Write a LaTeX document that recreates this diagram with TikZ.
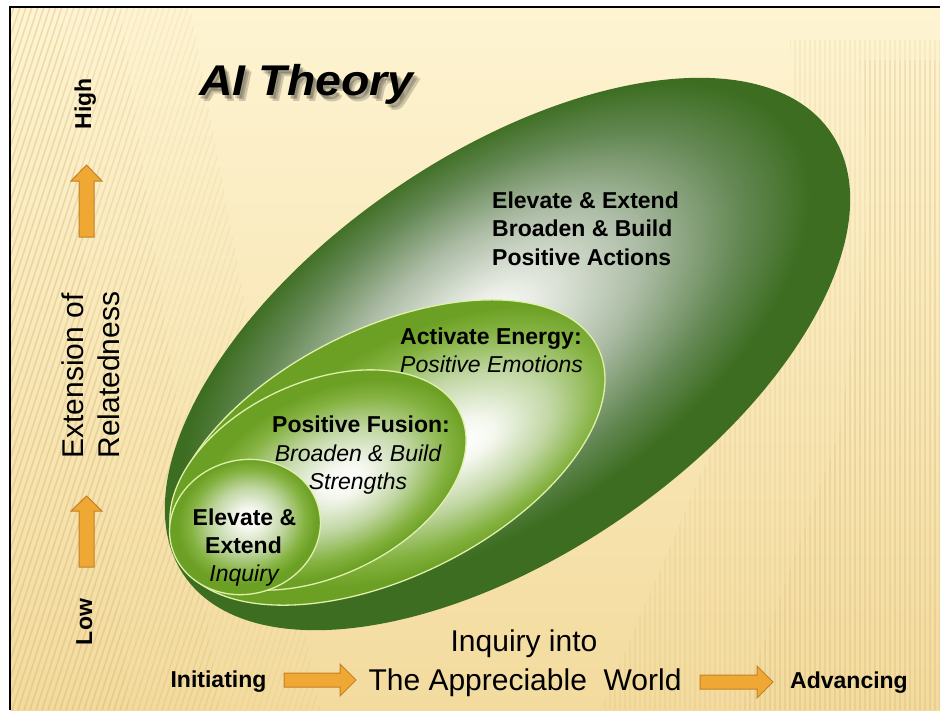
\documentclass[tikz,border=0pt]{standalone}
\usepackage{fontspec}
\setmainfont{Liberation Sans}
\definecolor{bgtop}{RGB}{254,244,210}
\definecolor{bgbot}{RGB}{243,219,158}
\definecolor{stripec}{RGB}{205,170,95}
\definecolor{OG}{RGB}{60,109,32}
\definecolor{OGa}{RGB}{100,136,84}
\definecolor{OGmid}{RGB}{172,188,165}
\definecolor{OGlight}{RGB}{236,239,232}
\definecolor{IG}{RGB}{108,160,36}
\definecolor{IGa}{RGB}{132,178,64}
\definecolor{IGmid}{RGB}{192,214,162}
\definecolor{IGlight}{RGB}{244,247,238}
\definecolor{rimc}{RGB}{222,240,170}
\definecolor{arrfill}{RGB}{240,168,52}
\definecolor{arrdraw}{RGB}{196,128,38}
\pgfdeclareradialshading{outershade}{\pgfpoint{0bp}{5bp}}{color(0bp)=(white); color(3bp)=(OGlight); color(11bp)=(OGmid); color(18bp)=(OGa); color(23bp)=(OG); color(50bp)=(OG)}
\pgfdeclareradialshading{actshade}{\pgfpoint{8bp}{-5bp}}{color(0bp)=(white); color(4bp)=(IGlight); color(12bp)=(IGmid); color(19bp)=(IGa); color(23bp)=(IG); color(50bp)=(IG)}
\pgfdeclareradialshading{fusshade}{\pgfpoint{4bp}{-3bp}}{color(0bp)=(white); color(4bp)=(IGlight); color(12bp)=(IGmid); color(19bp)=(IGa); color(23bp)=(IG); color(50bp)=(IG)}
\pgfdeclareradialshading{elvshade}{\pgfpoint{2bp}{3bp}}{color(0bp)=(white); color(4bp)=(IGlight); color(12bp)=(IGmid); color(19bp)=(IGa); color(23bp)=(IG); color(50bp)=(IG)}
\newcommand{\leftstripes}{\foreach \i in {-45,...,55} {\draw[stripeline] (\i*6, 710) -- (\i*6+230, 7);}}
\newcommand{\rightstripes}{\foreach \i in {0,...,76} {\draw[stripeline] (560+\i*5, 7) -- (560+\i*5, 710);}}
\begin{document}
\begin{tikzpicture}[x=1pt,y=-1pt,
  bt/.style={font=\fontsize{23}{27}\selectfont\bfseries, inner sep=0pt, anchor=base},
  itx/.style={font=\fontsize{23}{27}\selectfont\itshape, inner sep=0pt, anchor=base},
  rt/.style={font=\fontsize{30}{34}\selectfont, inner sep=0pt, anchor=base},
  ttl/.style={anchor=base, inner sep=0pt, text=black, font=\fontsize{43}{46}\selectfont\bfseries\itshape},
  orarrow/.style={fill=arrfill, draw=arrdraw, line width=1pt, line join=miter},
  rim/.style={draw=rimc, line width=1.3pt},
  stripeline/.style={draw=stripec, line width=1.3pt}]
\useasboundingbox (0,0) rectangle (940,710);
\fill[white] (0,0) rectangle (940,710);
\shade[top color=bgtop, bottom color=bgbot] (10,7) rectangle (940,710);
% background stripes (left, slanted)
\begin{scope}[opacity=0.13]
  \clip (10,7) -- (190,7) -- (320,710) -- (10,710) -- cycle; \leftstripes
\end{scope}
\begin{scope}[opacity=0.13]
  \clip (10,7) -- (120,7) -- (220,710) -- (10,710) -- cycle; \leftstripes
\end{scope}
\begin{scope}[opacity=0.13]
  \clip (10,7) -- (60,7) -- (130,710) -- (10,710) -- cycle; \leftstripes
\end{scope}
% background stripes (right, vertical)
\begin{scope}[opacity=0.12]
  \clip (600,710) -- (720,430) -- (800,200) -- (790,40) -- (940,40) -- (940,710) -- cycle; \rightstripes
\end{scope}
\begin{scope}[opacity=0.12]
  \clip (740,710) -- (840,430) -- (870,200) -- (860,60) -- (940,60) -- (940,710) -- cycle; \rightstripes
\end{scope}
% outer ellipse
\begin{scope}[transform canvas={shift={(507.5,354)}, rotate=34.4}]
  \shade[shading=outershade] (0,0) ellipse [x radius=392pt, y radius=200pt];
\end{scope}
% activate energy ellipse
\begin{scope}[transform canvas={shift={(387.5,452.5)}, rotate=26.5}]
  \shade[shading=actshade] (0,0) ellipse [x radius=235pt, y radius=124pt];
  \draw[rim] (0,0) ellipse [x radius=235pt, y radius=124pt];
\end{scope}
% positive fusion ellipse
\begin{scope}[transform canvas={shift={(318,480)}, rotate=25}]
  \shade[shading=fusshade] (0,0) ellipse [x radius=157pt, y radius=97pt];
  \draw[rim] (0,0) ellipse [x radius=157pt, y radius=97pt];
\end{scope}
% elevate circle
\begin{scope}[transform canvas={shift={(245,527)}, rotate=15}]
  \shade[shading=elvshade] (0,0) ellipse [x radius=76pt, y radius=67pt];
  \draw[rim] (0,0) ellipse [x radius=76pt, y radius=67pt];
\end{scope}
% frame
\draw[black, line width=2.5pt] (10,710) -- (10,7) -- (940,7);
% title with soft shadow
\node[ttl, opacity=0.18] (tsha) at (310,99) {\scalebox{1.08}[1]{AI Theory}};
\node[ttl, opacity=0.18] (tshb) at (312,101) {\scalebox{1.08}[1]{AI Theory}};
\node[ttl, opacity=0.14] (tshc) at (308.5,98) {\scalebox{1.08}[1]{AI Theory}};
\node[ttl] (title) at (306.5,95) {\scalebox{1.08}[1]{AI Theory}};
% outer ellipse text
\node[bt, anchor=base west] (o1) at (492,208) {Elevate \& Extend};
\node[bt, anchor=base west] (o2) at (492,236.5) {Broaden \& Build};
\node[bt, anchor=base west] (o3) at (492,265) {Positive Actions};
% activate text
\node[bt, anchor=base west] (a1) at (400,344) {Activate Energy:};
\node[itx, anchor=base west] (a2) at (400,372) {Positive Emotions};
% fusion text
\node[bt] (f1) at (361,432) {Positive Fusion:};
\node[itx] (f2) at (358,461) {Broaden \& Build};
\node[itx] (f3) at (358,489) {Strengths};
% elevate text
\node[bt] (e1) at (244.5,525) {Elevate \&};
\node[bt] (e2) at (243.5,553) {Extend};
\node[itx] (e3) at (244,581) {Inquiry};
% left axis
\node[bt, rotate=90] (high) at (91,104) {High};
\node[bt, rotate=90] (low) at (92,622) {Low};
\node[rt, rotate=90] (ext1) at (83,376) {Extension of};
\node[rt, rotate=90] (ext2) at (119,375) {Relatedness};
\draw[orarrow] (79,237) -- (79,181) -- (71,181) -- (86.5,165) -- (102,181) -- (94,181) -- (94,237) -- cycle;
\draw[orarrow] (79,567) -- (79,511) -- (71,511) -- (86.5,496) -- (102,511) -- (94,511) -- (94,567) -- cycle;
% bottom axis
\node[bt] (init) at (218.5,687) {Initiating};
\node[bt] (adv) at (849,688) {Advancing};
\node[rt] (inq1) at (524,651) {Inquiry into};
\node[rt] (inq2) at (525,690) {The Appreciable\ \ World};
\draw[orarrow] (284,673) -- (340,673) -- (340,664) -- (356,680) -- (340,696) -- (340,687) -- (284,687) -- cycle;
\draw[orarrow] (700,675) -- (757,675) -- (757,666) -- (773,682) -- (757,698) -- (757,689) -- (700,689) -- cycle;
\end{tikzpicture}
\end{document}
